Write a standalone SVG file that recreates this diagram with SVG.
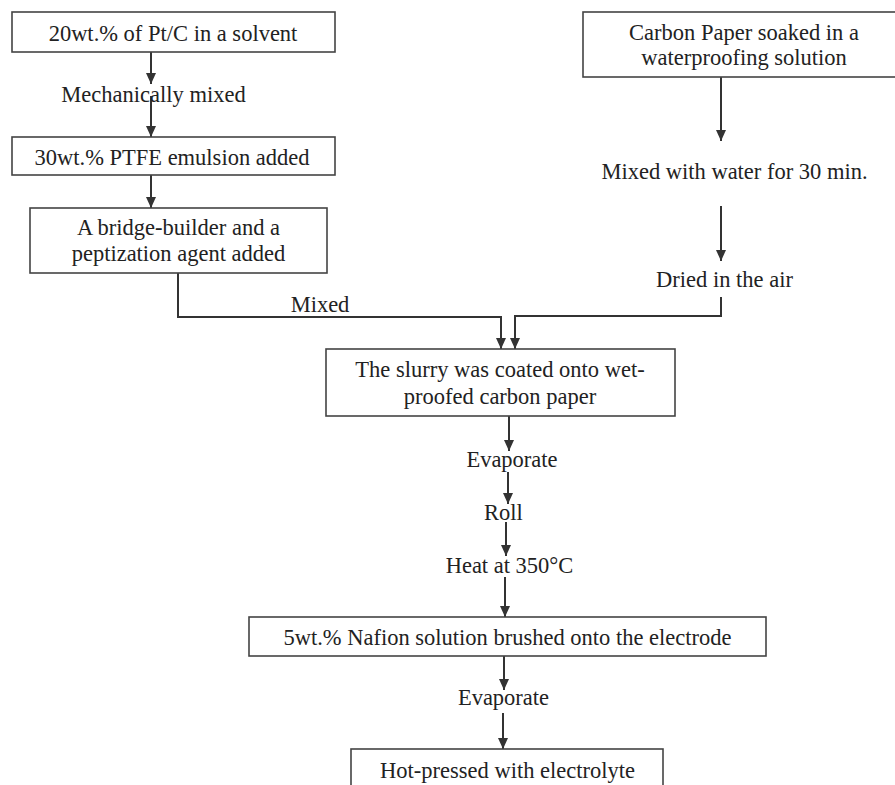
<svg xmlns="http://www.w3.org/2000/svg" width="895" height="785" viewBox="0 0 895 785">
<defs>
<marker id="ah" markerUnits="userSpaceOnUse" markerWidth="12" markerHeight="12" viewBox="0 0 12 12" refX="11" refY="6" orient="auto">
<path d="M0,1 L11,6 L0,11 Z" fill="#333"/>
</marker>
<style>
.box{fill:#fff;stroke:#444;stroke-width:1.6}
.t{font-family:"Liberation Serif","Times New Roman",serif;font-size:22.5px;fill:#222;text-anchor:middle}
.c{fill:none;stroke:#333;stroke-width:2}
.a{fill:none;stroke:#333;stroke-width:2;marker-end:url(#ah)}
</style>
</defs>
<rect width="895" height="785" fill="#fff"/>
<g id="connectors">
<line class="a" x1="151" y1="52" x2="151" y2="84"/>
<line class="a" x1="151" y1="96" x2="151" y2="137"/>
<line class="a" x1="151" y1="175" x2="151" y2="208"/>
<polyline class="a" points="178,273 178,317 501,317 501,349"/>
<line class="a" x1="721" y1="77" x2="721" y2="141"/>
<line class="a" x1="721" y1="206" x2="721" y2="261"/>
<polyline class="a" points="721,297 721,316 515,316 515,349"/>
<line class="a" x1="509" y1="416" x2="509" y2="451"/>
<line class="a" x1="508" y1="472" x2="508" y2="504"/>
<line class="a" x1="506" y1="522" x2="506" y2="556"/>
<line class="a" x1="505" y1="577" x2="505" y2="617"/>
<line class="a" x1="504" y1="656" x2="504" y2="690"/>
<line class="a" x1="503" y1="713" x2="503" y2="749"/>
</g>
<g id="n1">
<rect class="box" x="12" y="12" width="323" height="40"/>
<text class="t" x="173" y="41">20wt.% of Pt/C in a solvent</text>
</g>
<g id="l1">
<text class="t" x="153.5" y="102">Mechanically mixed</text>
</g>
<g id="n2">
<rect class="box" x="12" y="137" width="323" height="38"/>
<text class="t" x="172" y="165">30wt.% PTFE emulsion added</text>
</g>
<g id="n3">
<rect class="box" x="30" y="208" width="297" height="65"/>
<text class="t" x="178.5" y="235">A bridge-builder and a</text>
<text class="t" x="178.5" y="261">peptization agent added</text>
</g>
<g id="l2">
<text class="t" x="320" y="312">Mixed</text>
</g>
<g id="n4">
<rect class="box" x="583" y="12" width="320" height="65"/>
<text class="t" x="744" y="40">Carbon Paper soaked in a</text>
<text class="t" x="744" y="65">waterproofing solution</text>
</g>
<g id="l3">
<text class="t" x="734.5" y="179">Mixed with water for 30 min.</text>
</g>
<g id="l4">
<text class="t" x="724.5" y="287">Dried in the air</text>
</g>
<g id="n5">
<rect class="box" x="326" y="349" width="349" height="67"/>
<text class="t" x="500" y="377">The slurry was coated onto wet-</text>
<text class="t" x="500" y="404">proofed carbon paper</text>
</g>
<g id="l5">
<text class="t" x="512" y="467">Evaporate</text>
</g>
<g id="l6">
<text class="t" x="503.5" y="520">Roll</text>
</g>
<g id="l7">
<text class="t" x="509.5" y="573">Heat at 350°C</text>
</g>
<g id="n6">
<rect class="box" x="249" y="617" width="517" height="39"/>
<text class="t" x="507.5" y="645">5wt.% Nafion solution brushed onto the electrode</text>
</g>
<g id="l8">
<text class="t" x="503.5" y="705">Evaporate</text>
</g>
<g id="n7">
<rect class="box" x="351" y="749" width="312" height="60"/>
<text class="t" x="507.5" y="778">Hot-pressed with electrolyte</text>
</g>
</svg>
